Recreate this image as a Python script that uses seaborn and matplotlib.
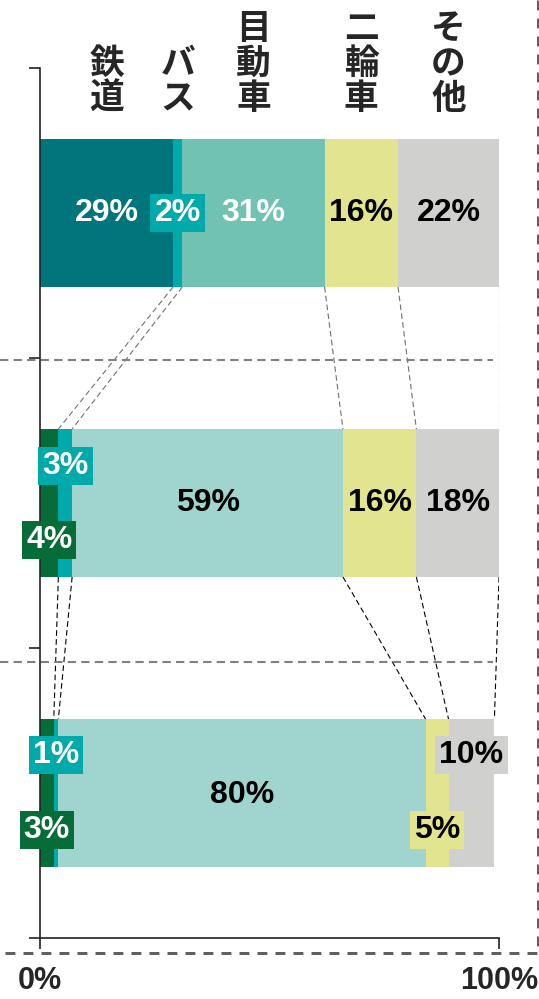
import numpy as np
import pandas as pd
import matplotlib
matplotlib.use('Agg')
import matplotlib.pyplot as plt
import seaborn as sns
from matplotlib.lines import Line2D

# --- data -------------------------------------------------------------
modes = ['鉄道', 'バス', '目動車', '二輪車', 'その他']
rows = ['r1', 'r2', 'r3']
rail = [29, 4, 3]
bus = [2, 3, 1]
car = [31, 59, 80]
bike = [16, 16, 5]
other = [22, 18, 10]

# --- styles -----------------------------------------------------------
seg_colors = {
    '鉄道': ['#00757C', '#066C38', '#066C38'],
    'バス': ['#00AAAA', '#00AAAA', '#00AAAA'],
    '目動車': ['#72C2B4', '#9FD4CF', '#9FD4CF'],
    '二輪車': ['#E3E48F', '#E3E48F', '#E3E48F'],
    'その他': ['#D0D0CF', '#D0D0CF', '#D0D0CF'],
}
txt_colors = [['white', 'white', 'white', 'black', 'black'],
              ['white', 'white', 'black', 'black', 'black'],
              ['white', 'white', 'black', 'black', 'black']]
boxed = [[False, True, False, False, False],
         [True, True, False, False, False],
         [True, True, False, True, True]]
# vertical shift of the value labels, in pixels (down is positive)
shift_px = [[0, 0, 0, 0, 0],
            [37, -37, 0, 0, 0],
            [37, -38, 2, 37, -38]]

bar_h = 0.51

sns.set_style('ticks')
plt.rcParams['font.family'] = ['Liberation Sans', 'Noto Sans CJK JP']

df = pd.DataFrame({'row': rows, '鉄道': rail, 'バス': bus, '目動車': car,
                   '二輪車': bike, 'その他': other})
cum = df[modes].cumsum(axis=1)

fig = plt.figure(figsize=(5.39, 9.99), dpi=100)
ax = fig.add_axes([40 / 539, 61 / 999, 459 / 539, 870 / 999])

for m in reversed(modes):
    sns.barplot(x=cum[m], y=df['row'], hue=df['row'], palette=seg_colors[m],
                orient='h', width=bar_h, saturation=1, linewidth=0,
                legend=False, ax=ax)

vals = df[modes].to_numpy()
cv = cum.to_numpy()
lefts = cv - vals
centers = lefts + vals / 2

# value labels
for i in range(len(rows)):
    for k, m in enumerate(modes):
        bbox = None
        if boxed[i][k]:
            bbox = dict(boxstyle='square,pad=0.13', fc=seg_colors[m][i], ec='none')
        ax.annotate(f'{vals[i, k]}%', xy=(centers[i, k], i),
                    xytext=(0, -shift_px[i][k] * 0.72), textcoords='offset points',
                    ha='center', va='center', fontsize=23, fontweight='bold',
                    color=txt_colors[i][k], bbox=bbox, zorder=5)

# connector lines between bars
conn_colors = ['#707070', 'black']
for i in range(len(rows) - 1):
    for k in range(len(modes)):
        ax.plot([cv[i, k], cv[i + 1, k]], [i + bar_h / 2, i + 1 - bar_h / 2],
                color=conn_colors[i], lw=0.8, linestyle=(0, (5, 3)), zorder=1)

def px_to_y(p):
    return (p - 68) / 290 - 0.5

# separators between rows
for yp in [360, 662]:
    ax.plot([-8.7, 98.7], [px_to_y(yp)] * 2, color='#808080', lw=1.5,
            linestyle=(0, (4, 2.5)), clip_on=False, zorder=1)

# vertical mode labels above first bar
for k, m in enumerate(modes):
    for j, ch in enumerate(reversed(m)):
        ax.text(centers[0, k], px_to_y(109 - 35 * j), ch, ha='center',
                va='baseline', fontsize=25, fontweight='bold',
                family='Noto Sans CJK JP', clip_on=False)

ax.set_xlim(0, 100)
ax.set_ylim(2.5, -0.5)
ax.set_xticks([0, 100])
ax.set_xticklabels(['0%', '100%'], fontsize=22, fontweight='bold')
ax.set_yticks([-0.5, 0.5, 1.5, 2.5])
ax.set_yticklabels([])
ax.set_xlabel('')
ax.set_ylabel('')
ax.tick_params(axis='both', direction='out', length=8, width=1.2, color='#222222')
ax.tick_params(axis='x', pad=12)
sns.despine(ax=ax)
for s in ['left', 'bottom']:
    ax.spines[s].set_linewidth(1.2)
    ax.spines[s].set_color('#222222')

# dashed outer frame
fig.add_artist(Line2D([538 / 539, 538 / 539], [1, 46 / 999], color='#606060',
                      lw=2.16, linestyle=(0, (3.3, 2.7))))
fig.add_artist(Line2D([5 / 539, 1], [46 / 999, 46 / 999], color='#606060',
                      lw=2.16, linestyle=(0, (3.3, 2.7))))

fig.savefig('out.png', dpi=100)
